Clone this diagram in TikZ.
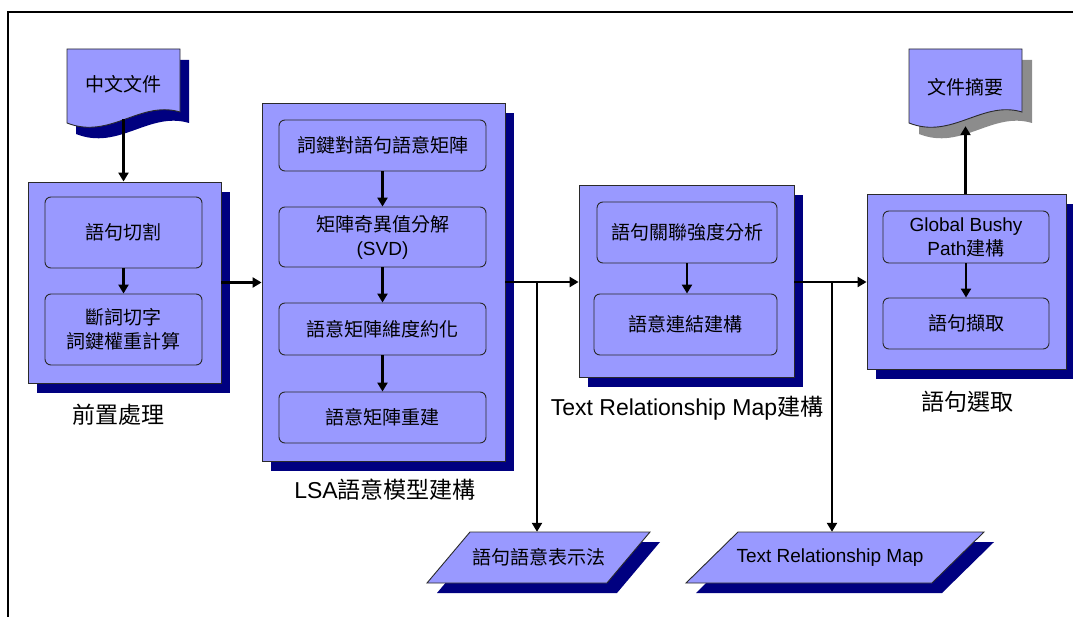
\documentclass[tikz,border=0pt]{standalone}
\usepackage{fontspec}
\setmainfont{Liberation Sans}
\newfontfamily\cjk{Noto Sans CJK TC}
\usetikzlibrary{arrows.meta,shadows}
\definecolor{body}{HTML}{9999FF}
\definecolor{navyshadow}{HTML}{000080}
\definecolor{edge}{HTML}{2A2A2A}
\newcommand\en[1]{{\rmfamily #1}}

\tikzset{
  % page outline with a wavy lower edge, origin at its top-left corner
  pagepath/.pic={
    \path[pic actions] (0,0) -- (113,0) -- (113,63)
      .. controls (73,51) and (43,91) .. (0,74) -- cycle;
  },
}

\begin{document}
\begin{tikzpicture}[x=1pt,y=-1pt,
  stage/.style={draw=edge, line width=0.9pt, fill=body, inner sep=0pt,
    drop shadow={shadow xshift=9pt, shadow yshift=-10pt, fill=navyshadow, opacity=1}},
  task/.style={draw=edge, line width=0.9pt, fill=body, rounded corners=6pt,
    align=center, inner sep=0pt, font=\cjk\fontsize{19}{24}\selectfont},
  plain/.style={inner sep=0pt, align=center, font=\cjk\fontsize{19}{24}\selectfont},
  caption/.style={inner sep=0pt, font=\cjk\fontsize{23}{28}\selectfont},
  flow/.style={line width=2.3pt, -{Triangle[length=9pt,width=10pt]}},
]
\useasboundingbox (0,0) rectangle (1073,617);

% outer frame
\draw[line width=1.4pt] (8,617) -- (8,12) -- (1073,12);

% input document
\pic[fill=navyshadow] at (76,60) {pagepath};
\pic[draw=edge, line width=0.9pt, fill=body] at (67,49) {pagepath};
\node[plain, minimum width=113pt, minimum height=70pt] (src) at (123.5,84) {中文文件};

% output document
\pic[fill=black!45] at (919,60) {pagepath};
\pic[draw=edge, line width=0.9pt, fill=body] at (909,49) {pagepath};
\node[plain, minimum width=113pt, minimum height=77pt] (sum) at (965.5,87.5) {文件摘要};

% stage containers
\node[stage, minimum width=193pt, minimum height=201pt] (pre) at (124.5,282.5) {};
\node[stage, minimum width=243pt, minimum height=358pt] (lsa) at (383.5,282) {};
\node[stage, minimum width=215pt, minimum height=192pt] (trm) at (686.5,281) {};
\node[stage, minimum width=199pt, minimum height=175pt] (sel) at (966.5,281.5) {};

% preprocessing steps
\node[task, minimum width=157pt, minimum height=71pt] (seg) at (123.5,232.5) {語句切割};
\node[task, minimum width=157pt, minimum height=71pt] (tok) at (123.5,329.5) {斷詞切字\\詞鍵權重計算};

% LSA steps
\node[task, minimum width=207pt, minimum height=51pt] (m1) at (382.5,145.5) {詞鍵對語句語意矩陣};
\node[task, minimum width=207pt, minimum height=60pt] (m2) at (382.5,237) {矩陣奇異值分解\\\en{(SVD)}};
\node[task, minimum width=207pt, minimum height=52pt] (m3) at (382.5,329) {語意矩陣維度約化};
\node[task, minimum width=207pt, minimum height=51pt] (m4) at (382.5,417.5) {語意矩陣重建};

% relationship map steps
\node[task, minimum width=180pt, minimum height=61pt] (t1) at (687,232.5) {語句關聯強度分析};
\node[task, minimum width=183pt, minimum height=61pt] (t2) at (685.5,324.5) {語意連結建構};

% selection steps
\node[task, minimum width=166pt, minimum height=52pt] (s1) at (966,237) {\en{Global Bushy}\\\en{Path}建構};
\node[task, minimum width=166pt, minimum height=51pt] (s2) at (966,323.5) {語句擷取};

% stage captions
\node[caption] (preL) at (118,415) {前置處理};
\node[caption] (lsaL) at (385,490) {\en{LSA}語意模型建構};
\node[caption] (trmL) at (687,408) {\en{Text Relationship Map}建構};
\node[caption] (selL) at (967,402) {語句選取};

% data outputs
\fill[navyshadow] (437,593) -- (617,593) -- (660,542) -- (480,542) -- cycle;
\draw[draw=edge, fill=body, line width=0.9pt] (427,583) -- (607,583) -- (650,532) -- (470,532) -- cycle;
\node[plain, minimum width=180pt, minimum height=51pt] (repA) at (538.5,557.5) {語句語意表示法};

\fill[navyshadow] (696,593) -- (942,593) -- (994,542) -- (748,542) -- cycle;
\draw[draw=edge, fill=body, line width=0.9pt] (686,583) -- (932,583) -- (984,532) -- (738,532) -- cycle;
\node[plain, minimum width=200pt, minimum height=51pt] (rel) at (830,557.5) {\en{Text Relationship Map}};

% inner flows
\draw[flow] (seg.south) -- (tok.north);
\draw[flow] (m1.south) -- (m2.north);
\draw[flow] (m2.south) -- (m3.north);
\draw[flow] (m3.south) -- (m4.north);
\draw[flow] (t1.south) -- (t1.south |- t2.north);
\draw[flow] (s1.south) -- (s2.north);

% main flow
\coordinate (j1) at (537,282);
\coordinate (j2) at (832,282);
\draw[flow] (src.south) -- (src.south |- pre.north);
\draw[flow] (pre.east) -- (lsa.west |- pre.east);
\draw[flow] (lsa.east |- j1) -- (trm.west |- j1);
\draw[flow] (j1) -- (j1 |- repA.north);
\draw[flow] (trm.east |- j2) -- (sel.west |- j2);
\draw[flow] (j2) -- (j2 |- rel.north);
\draw[flow] (sel.north -| sum.south) -- (sum.south);
\end{tikzpicture}
\end{document}
